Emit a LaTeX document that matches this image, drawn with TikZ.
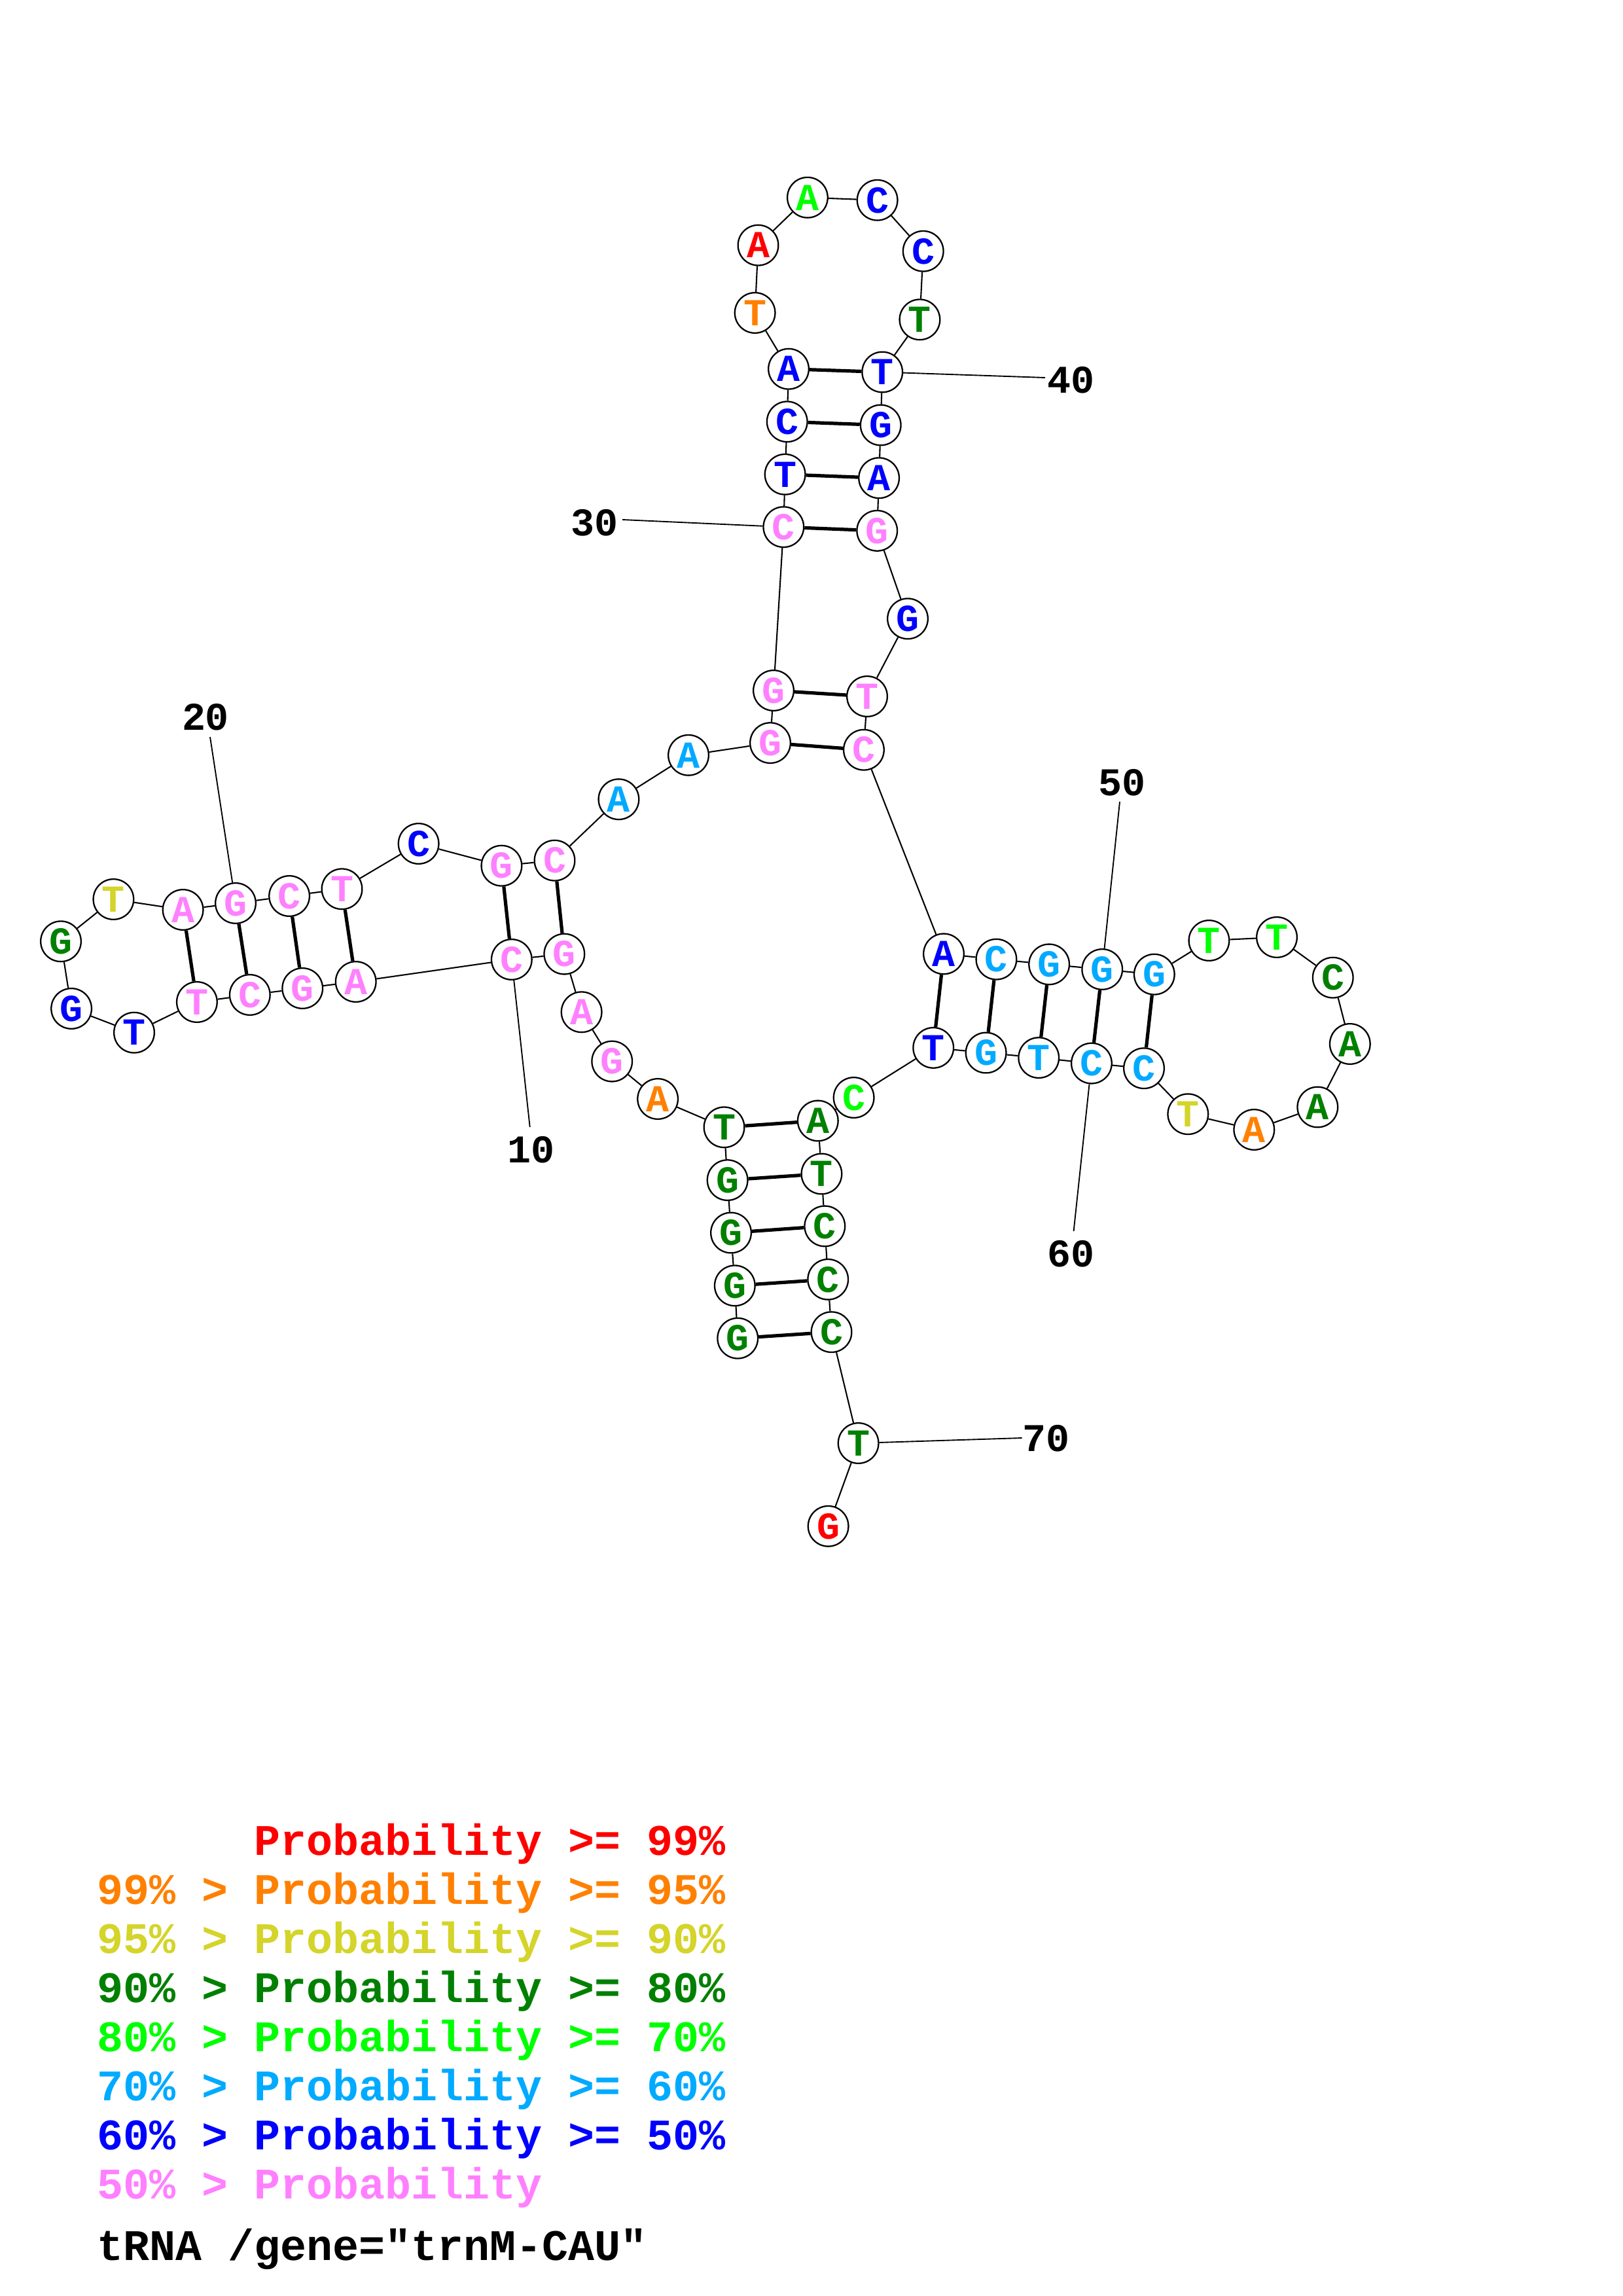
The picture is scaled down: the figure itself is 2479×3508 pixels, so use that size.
\documentclass[tikz,border=0pt]{standalone}
\usepackage{fontspec}
\setmonofont{Liberation Mono}
\definecolor{rd}{HTML}{FF0000}
\definecolor{or}{HTML}{FF8000}
\definecolor{ye}{HTML}{D4D42A}
\definecolor{dg}{HTML}{008000}
\definecolor{bg}{HTML}{00FF00}
\definecolor{lb}{HTML}{00AAFF}
\definecolor{bl}{HTML}{0000FF}
\definecolor{pk}{HTML}{FF80FF}
\tikzset{
  nt/.style={circle, draw=black, line width=0.55pt, fill=white, minimum size=14.8pt, inner sep=0pt,
    font=\ttfamily\bfseries\fontsize{14}{14}\selectfont},
  bb/.style={line width=0.5pt},
  bp/.style={line width=1.25pt},
  lab/.style={font=\ttfamily\bfseries\fontsize{14.4}{14.4}\selectfont, inner sep=0pt},
  ll/.style={line width=0.45pt},
  leg/.style={font=\ttfamily\bfseries\fontsize{16}{16}\selectfont, anchor=base west, inner sep=0pt},
}
\begin{document}
\begin{tikzpicture}[x=0.24pt,y=-0.24pt]
\useasboundingbox (0,0) rectangle (2479,3508);
\foreach \n/\x/\y/\c/\l in {
 1/1127.2/2044.7/dg/G, 2/1122.8/1964.3/dg/G, 3/1117/1883.5/dg/G, 4/1111.6/1803.1/dg/G, 5/1106.5/1722.3/dg/T,
 6/1005.1/1679/or/A, 7/935.2/1621.6/pk/G, 8/888.6/1546.3/pk/A, 9/862.3/1457.6/pk/G, 10/781.8/1466/pk/C,
 11/543.7/1500/pk/A, 12/462.2/1510/pk/G, 13/381.8/1520/pk/C, 14/300.9/1531/pk/T, 15/205/1577.7/bl/T,
 16/109.1/1541/bl/G, 17/93/1438.3/dg/G, 18/173.4/1374/ye/T, 19/279.6/1390/pk/A, 20/360/1380/pk/G,
 21/442.1/1369/pk/C, 22/522.5/1358.3/pk/T, 23/639.6/1289/bl/C, 24/766.4/1322.7/pk/G, 25/847.5/1314.7/pk/C,
 26/945.4/1221.2/lb/A, 27/1052/1153.8/lb/A, 28/1177/1135.1/pk/G, 29/1182/1055/pk/G, 30/1197.3/805.2/pk/C,
 31/1199.6/724.8/bl/T, 32/1202.7/644.3/bl/C, 33/1205/563.7/bl/A, 34/1153.6/478/or/T, 35/1158.5/374.7/rd/A,
 36/1233.9/301.8/bg/A, 37/1340.6/305.8/bl/C, 38/1410.7/383.8/bl/C, 39/1405.4/488.3/dg/T, 40/1348.2/568.5/bl/T,
 41/1345.7/649.5/bl/G, 42/1343.1/730.3/bl/A, 43/1340.2/810.9/pk/G, 44/1387/945.3/bl/G, 45/1325/1064/pk/T,
 46/1319.9/1145.7/pk/C, 47/1442/1457.4/bl/A, 48/1522.4/1465.7/lb/C, 49/1603.1/1473.4/lb/G, 50/1684.2/1481/lb/G,
 51/1763.8/1488.7/lb/G, 52/1847.4/1437/bg/T, 53/1951/1432/bg/T, 54/2036.7/1493.7/dg/C, 55/2062.8/1595/dg/A,
 56/2013.3/1691.5/dg/A, 57/1916.3/1726/or/A, 58/1815.3/1702.2/ye/T, 59/1748/1632.2/lb/C, 60/1667.9/1624.6/lb/C,
 61/1587.2/1616.1/lb/T, 62/1506.6/1608.5/lb/G, 63/1426.2/1600.9/bl/T, 64/1304.6/1677/bg/C, 65/1249.8/1712.4/dg/A,
 66/1255.4/1793.5/dg/T, 67/1260.3/1873.4/dg/C, 68/1265.2/1954.8/dg/C, 69/1270.5/2035.2/dg/C, 70/1311.6/2205/dg/T,
 71/1265.6/2331.8/rd/G}
 \node[nt,text=\c] (n\n) at (\x,\y) {\l};
\foreach \i [evaluate=\i as \j using {int(\i+1)}] in {1,...,70}
 \draw[bb] (n\i) -- (n\j);
\foreach \a/\b in {1/69,2/68,3/67,4/66,5/65,9/25,10/24,11/22,12/21,13/20,14/19,
  28/46,29/45,30/43,31/42,32/41,33/40,47/63,48/62,49/61,50/60,51/59}
 \draw[bp] (n\a) -- (n\b);
% number labels
\coordinate (e10) at (809.7,1722);
\coordinate (e20) at (321,1126);
\coordinate (e30) at (951,794);
\coordinate (e40) at (1597,577);
\coordinate (e50) at (1711,1225);
\coordinate (e60) at (1640.6,1881);
\coordinate (e70) at (1561.6,2197);
\node[lab] (l10) at (811,1757) {10};
\node[lab] (l20) at (314,1096) {20};
\node[lab] (l30) at (908,799) {30};
\node[lab] (l40) at (1636,581) {40};
\node[lab] (l50) at (1714,1196) {50};
\node[lab] (l60) at (1636,1916) {60};
\node[lab] (l70) at (1598,2198) {70};
\foreach \k in {10,20,30,40,50,60,70}
 \draw[ll] (n\k) -- (e\k);
% legend
\node[leg,text=rd] (g1) at (388,2834) {Probability >= 99\%};
\node[leg,text=or] (g2) at (148,2909) {99\% > Probability >= 95\%};
\node[leg,text=ye] (g3) at (148,2984) {95\% > Probability >= 90\%};
\node[leg,text=dg] (g4) at (148,3059) {90\% > Probability >= 80\%};
\node[leg,text=bg] (g5) at (148,3134) {80\% > Probability >= 70\%};
\node[leg,text=lb] (g6) at (148,3209) {70\% > Probability >= 60\%};
\node[leg,text=bl] (g7) at (148,3284) {60\% > Probability >= 50\%};
\node[leg,text=pk] (g8) at (148,3359) {50\% > Probability};
\node[leg,text=black] (g9) at (148,3453) {tRNA /gene="trnM-CAU"};
\end{tikzpicture}
\end{document}
